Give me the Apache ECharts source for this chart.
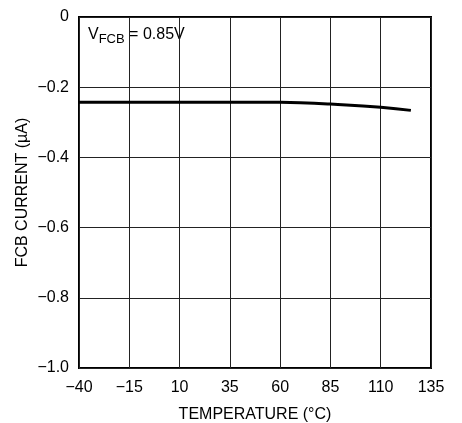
<!DOCTYPE html>
<html><head><meta charset="utf-8">
<script src="https://cdn.jsdelivr.net/npm/echarts@6/dist/echarts.min.js"></script>
<style>html,body{margin:0;padding:0;background:#fff}#c{width:462px;height:423px}</style>
</head><body><div id="c"></div>
<script>
const temperatures = [-40, 60, 70, 85, 110, 125];
const fcbCurrent = [-0.243, -0.243, -0.244, -0.248, -0.257, -0.266];
const xTicks = [-40, -15, 10, 35, 60, 85, 110, 135];
const yTicks = [-1.0, -0.8, -0.6, -0.4, -0.2, 0];
const FONT = '"Liberation Sans Narrow", "Liberation Sans", sans-serif';
const fmt = v => (v === 0 ? '0' : '\u2212' + Math.abs(v).toFixed(1));
const chart = echarts.init(document.getElementById('c'), null, {renderer: 'canvas'});
chart.setOption({
  animation: false,
  grid: {left: 79, right: 31, top: 17, bottom: 55, show: true, borderColor: '#000', borderWidth: 2,
    containLabel: false, outerBoundsMode: 'none'},
  xAxis: {
    type: 'value', min: -40, max: 135, interval: 25,
    name: 'TEMPERATURE (\u00B0C)', nameLocation: 'middle', nameGap: 39,
    nameTextStyle: {fontFamily: FONT, fontSize: 16, color: '#000'},
    axisLine: {show: false}, axisTick: {show: false},
    axisLabel: {fontFamily: FONT, fontSize: 16, color: '#000', margin: 12,
      formatter: v => (v < 0 ? '\u2212' + Math.abs(v) : String(v))},
    splitLine: {show: true, lineStyle: {color: '#222', width: 1}}
  },
  yAxis: {
    type: 'value', min: -1.0, max: 0, interval: 0.2,
    name: 'FCB CURRENT (\u00B5A)', nameLocation: 'middle', nameGap: 48, nameMoveOverlap: false,
    nameTextStyle: {fontFamily: FONT, fontSize: 16, color: '#000'},
    axisLine: {show: false}, axisTick: {show: false},
    axisLabel: {fontFamily: FONT, fontSize: 16, color: '#000', margin: 10, formatter: fmt},
    splitLine: {show: true, lineStyle: {color: '#222', width: 1}}
  },
  graphic: [{
    type: 'text', left: 88, top: 27,
    style: {
      text: '{m|V}{s|FCB}{m| = 0.85V}',
      rich: {
        m: {fontFamily: FONT, fontSize: 16, fill: '#000'},
        s: {fontFamily: FONT, fontSize: 13, fill: '#000', padding: [8, 0, 0, 0]}
      }
    }
  }],
  series: [{
    type: 'line', smooth: true, symbol: 'none',
    lineStyle: {color: '#000', width: 3},
    data: temperatures.map((t, i) => [t, fcbCurrent[i]])
  }]
});
</script></body></html>
